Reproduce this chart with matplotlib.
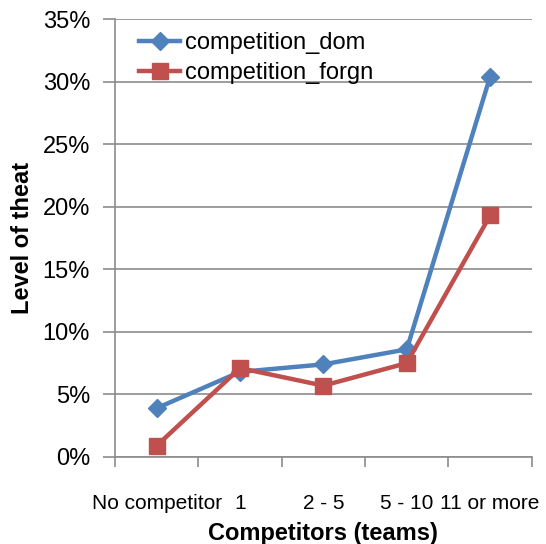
import numpy as np
import matplotlib
matplotlib.use("Agg")
import matplotlib.pyplot as plt
from matplotlib.ticker import FixedLocator, PercentFormatter

plt.rcParams['font.family'] = ['Liberation Sans', 'DejaVu Sans']

categories = ["No competitor", "1", "2 - 5", "5 - 10", "11 or more"]
competition_dom = [3.9, 6.8, 7.4, 8.6, 30.4]
competition_forgn = [0.9, 7.1, 5.7, 7.5, 19.3]
y_ticks = [0, 5, 10, 15, 20, 25, 30, 35]

blue = "#4F81BD"
red = "#C0504D"
grey = "#8C8C8C"

fig = plt.figure(figsize=(5.46, 5.44), dpi=100, facecolor="white")
ax = fig.add_axes([0.2106, 0.16, 0.7634, 0.805])

x = np.arange(len(categories))
ax.plot(x, competition_dom, color=blue, linewidth=3.2, marker="D", markersize=9,
        label="competition_dom", zorder=3)
ax.plot(x, competition_forgn, color=red, linewidth=3.2, marker="s", markersize=11,
        label="competition_forgn", zorder=3)

ax.set_xlim(-0.5, len(categories) - 0.5)
ax.set_ylim(0, 35)
ax.set_yticks(y_ticks)
ax.yaxis.set_major_formatter(PercentFormatter(decimals=0))
ax.grid(axis="y", color=grey, linewidth=1.2)
ax.set_axisbelow(True)

# category labels centred, tick marks on the boundaries
ax.set_xticks(x)
ax.set_xticklabels(categories)
ax.tick_params(axis="x", which="major", length=0, pad=27, labelsize=15)
ax.xaxis.set_minor_locator(FixedLocator(np.arange(-0.5, len(categories), 1.0)))
ax.tick_params(axis="x", which="minor", length=7, color=grey, width=1.2)
ax.tick_params(axis="y", length=9, color=grey, width=1.2, labelsize=17, pad=9)

for side in ["top", "right"]:
    ax.spines[side].set_visible(False)
for side in ["left", "bottom"]:
    ax.spines[side].set_color(grey)
    ax.spines[side].set_linewidth(1.2)

ax.set_xlabel("Competitors (teams)", fontsize=17, fontweight="bold", labelpad=6)
ax.set_ylabel("Level of theat", fontsize=17, fontweight="bold", labelpad=6)

ax.legend(loc="upper left", bbox_to_anchor=(0.035, 0.992), frameon=False, fontsize=17,
          handlelength=1.75, handletextpad=0.2, labelspacing=0.35, borderaxespad=0)

fig.savefig("out.png", dpi=100)
